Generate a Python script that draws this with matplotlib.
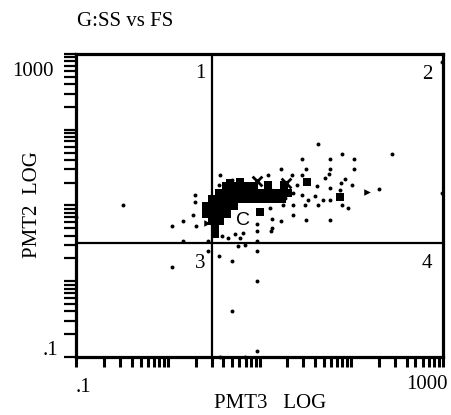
import matplotlib.pyplot as plt
from matplotlib.ticker import LogLocator, NullFormatter

# quadrant gate positions
qx = 3.0
qy = 3.2

# single events (PMT3, PMT2)
sparse_x = [0.32, 0.1, 1.09, 1.44, 1.95, 1.95, 1.85, 2.0, 1.09, 2.7, 3.56, 4.94,
            9.3, 9.3, 4.94, 9.3, 3.66, 6.85, 1.44, 2.7, 5.75, 6.85, 9.3, 3.85,
            4.47, 5.33, 6.04, 6.52, 3.66, 4.94, 12.2, 12.9, 13.5, 13.5, 9.3, 9.3,
            13.2, 17, 23, 32, 58, 92, 17.8, 23, 31, 43, 79, 49, 58, 18.7, 23, 75,
            58, 42, 25.4, 101, 200, 22.4, 29, 17, 32, 58, 106, 29, 58, 106, 79,
            277, 43, 980, 980, 51.3, 56.8, 76.7, 84.9, 28.8, 33.5, 39.9, 3.56]
sparse_y = [10, 7.1, 5.4, 6.3, 13.6, 11.0, 7.4, 5.4, 1.54, 2.5, 2.15, 1.85,
            2.5, 1.0, 0.4, 0.12, 0.1, 0.1, 3.41, 3.41, 2.93, 3.0, 3.41, 3.98,
            3.74, 4.24, 3.74, 4.37, 25.1, 21.5, 25.1, 9.4, 6.7, 5.1, 5.75, 4.6,
            4.6, 6.3, 7.6, 6.5, 6.5, 9.4, 10, 10, 10, 10, 10.3, 11.7, 11.9, 12.4,
            14.5, 15.8, 16.9, 17.9, 18.5, 18.5, 16.3, 25, 25, 30, 30, 30, 30, 41,
            41, 41, 48, 48, 65, 14.5, 780, 22.9, 25.9, 19.6, 22.2, 13.6, 11.7,
            13.2, 18.9]

# overlapping events in the dense core
dense_x = [4.25, 5.07, 6.04, 7.21, 8.59,
           3.56, 4.25, 5.07, 6.04, 7.21, 8.59, 10.3, 12.2, 14.6, 17.4, 20.2,
           2.99, 3.56, 4.25, 5.07, 6.04, 7.21, 8.59, 10.3, 12.2, 14.6, 17.4,
           2.57, 3.03, 3.66, 4.36, 5.2,
           2.57, 3.03, 3.66, 4.36,
           3.03, 3.66,
           3.22, 3.22,
           18.3, 32.7, 75, 10, 12.2, 6.04, 4.7]
dense_y = [17.9, 17.9, 17.9, 17.9, 17.9,
           14.5, 14.5, 14.5, 14.5, 14.5, 14.5, 14.5, 14.5, 14.5, 14.5, 14.5,
           12.0, 12.0, 12.0, 12.0, 12.0, 12.0, 12.0, 12.0, 12.0, 12.0, 12.0,
           9.7, 9.7, 9.7, 9.7, 9.7,
           7.8, 7.8, 7.8, 7.8,
           6.31, 6.31,
           5.1, 4.24,
           18.5, 20.3, 12.8, 8.1, 18.6, 20.4, 20.0]

cross_x = [9.3, 19.2, 15.0]
cross_y = [20.9, 19.6, 14.0]
arrow_x = [148, 2.64]
arrow_y = [14.9, 5.9]

plt.rcParams['font.family'] = 'Liberation Serif'

fig = plt.figure(figsize=(4.51, 4.15), dpi=100)
ax = fig.add_axes([0.1696, 0.1398, 0.8126, 0.7301])
ax.set_xscale('log')
ax.set_yscale('log')
ax.set_xlim(0.1, 1000)
ax.set_ylim(0.1, 1000)

ax.scatter(sparse_x, sparse_y, s=8, c='black', marker='o', linewidths=0, clip_on=False, zorder=3)
ax.scatter(dense_x, dense_y, s=33, c='black', marker='s', linewidths=0, zorder=3)
ax.scatter(cross_x, cross_y, s=50, c='black', marker='x', linewidths=2, zorder=3)
ax.scatter(arrow_x, arrow_y, s=22, c='black', marker='>', linewidths=0, zorder=3)

ax.axvline(qx, color='black', lw=1.6)
ax.axhline(qy, color='black', lw=1.6)

for sp in ax.spines.values():
    sp.set_linewidth(2.3)

for axis in (ax.xaxis, ax.yaxis):
    axis.set_major_locator(LogLocator(base=10, numticks=10))
    axis.set_minor_locator(LogLocator(base=10, subs=range(2, 10), numticks=10))
    axis.set_major_formatter(NullFormatter())
    axis.set_minor_formatter(NullFormatter())
ax.tick_params(axis='x', which='both', direction='out', length=7, width=2.2)
ax.tick_params(axis='y', which='both', direction='out', length=9, width=1.6)

fs = 15
# quadrant numbers
ax.text(0.337, 0.937, '1', transform=ax.transAxes, ha='center', va='center', fontsize=fs)
ax.text(0.956, 0.931, '2', transform=ax.transAxes, ha='center', va='center', fontsize=fs)
ax.text(0.337, 0.310, '3', transform=ax.transAxes, ha='center', va='center', fontsize=fs)
ax.text(0.956, 0.310, '4', transform=ax.transAxes, ha='center', va='center', fontsize=fs)
ax.text(6.5, 6.3, 'C', ha='center', va='center', fontsize=14, family='Liberation Sans', zorder=4)

# axis end labels
ax.text(0.018, -0.102, '.1', transform=ax.transAxes, ha='center', va='center', fontsize=fs)
ax.text(0.956, -0.092, '1000', transform=ax.transAxes, ha='center', va='center', fontsize=fs)
ax.text(-0.119, 0.941, '1000', transform=ax.transAxes, ha='center', va='center', fontsize=fs)
ax.text(-0.072, 0.023, '.1', transform=ax.transAxes, ha='center', va='center', fontsize=fs)

ax.text(0.528, -0.155, 'PMT3   LOG', transform=ax.transAxes, ha='center', va='center', fontsize=fs)
ax.text(-0.119, 0.502, 'PMT2  LOG', transform=ax.transAxes, ha='center', va='center',
        rotation=90, fontsize=fs)
fig.text(0.171, 0.947, 'G:SS vs FS', ha='left', va='center', fontsize=fs)

fig.savefig('out.png', dpi=100)
